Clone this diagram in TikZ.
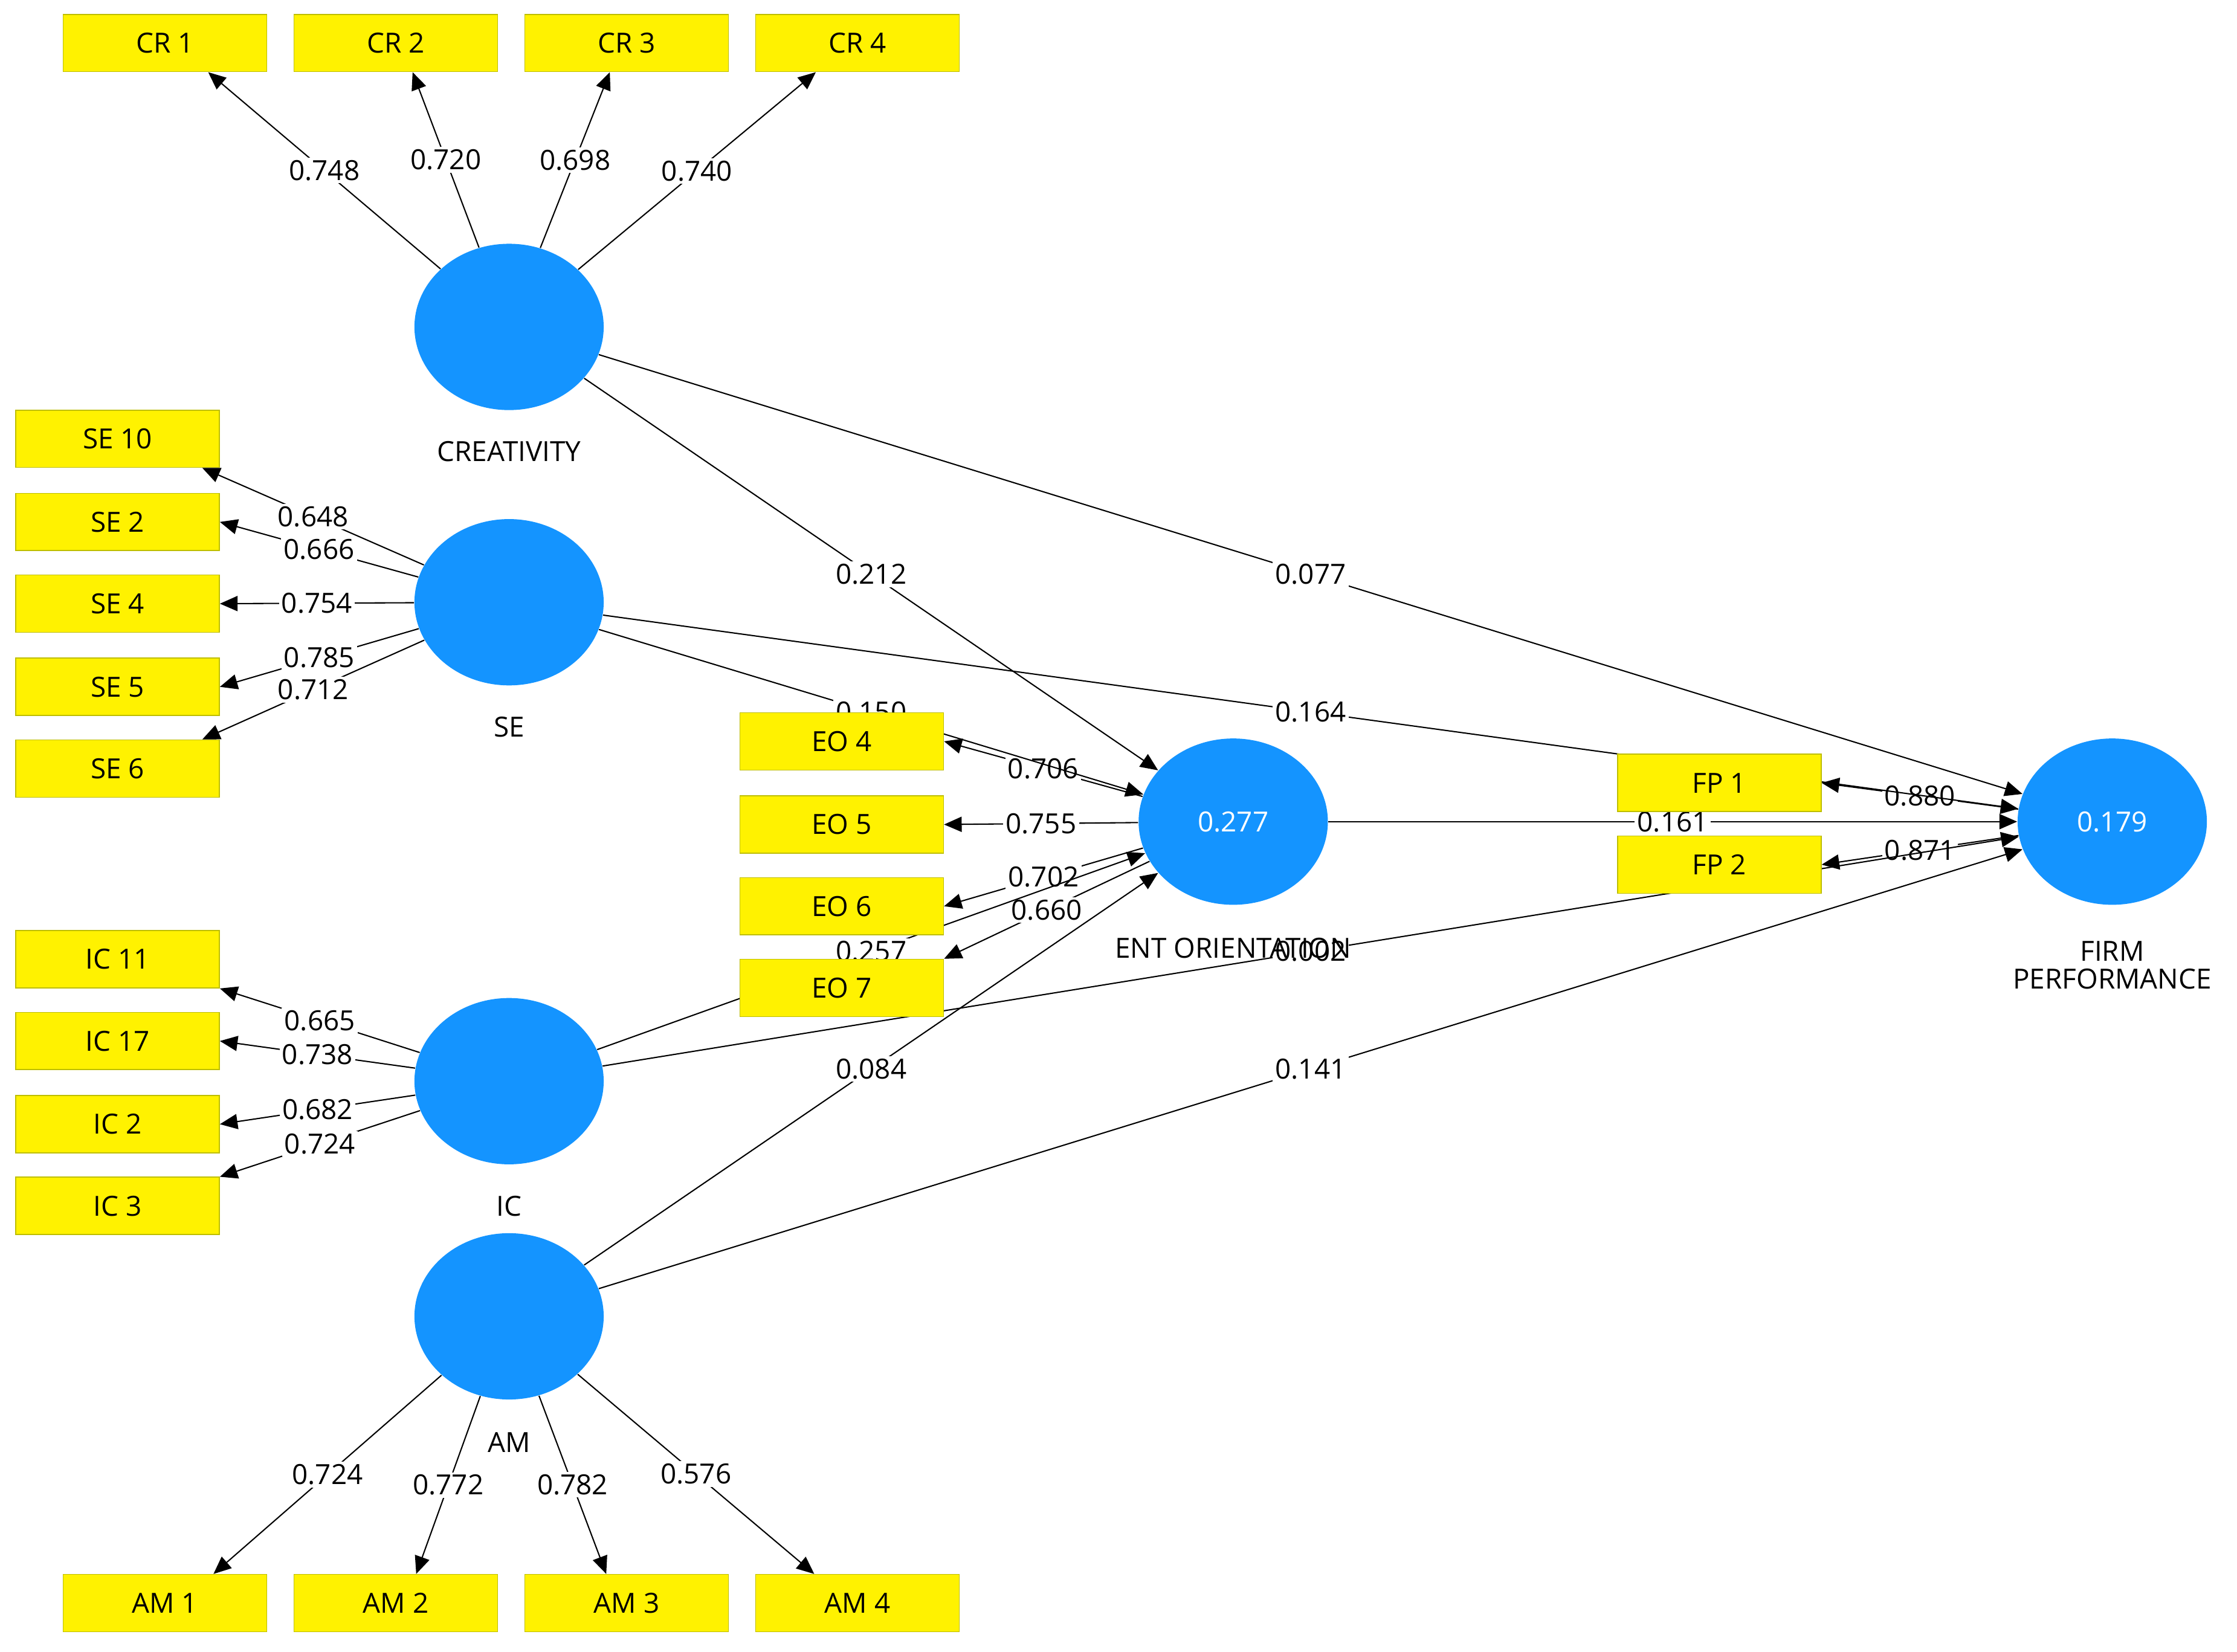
\documentclass[tikz,border=0pt]{standalone}
\usepackage{fontspec}
\setmainfont{Open Sans}
\usetikzlibrary{shapes.geometric,arrows.meta}
\pgfdeclarelayer{bg}
\pgfsetlayers{bg,main}
\begin{document}
\begin{tikzpicture}[x=0.02cm,y=-0.02cm,
  font=\fontsize{11}{13}\selectfont,
  lv/.style={ellipse,fill={rgb,255:red,20;green,148;blue,255},minimum width=2.64cm,minimum height=2.32cm,inner sep=0pt,text=white},
  ind/.style={rectangle,draw={rgb,255:red,190;green,190;blue,0},fill=yellow,minimum width=2.84cm,minimum height=0.8cm,inner sep=0pt},
  ar/.style={-{Triangle[length=7pt,width=6pt]},line width=0.5pt},
  lab/.style={fill=white,inner sep=1pt,pos=0.5},
  lvcap/.style={align=center}]
\useasboundingbox (0,0) rectangle (1560,1152);
% latent variables
\node[lv] (cr) at (355,228) {};
\node[lv] (se) at (355,420) {};
\node[lv] (ic) at (355,754) {};
\node[lv] (am) at (355,918) {};
\node[lv] (eo) at (860,573) {0.277};
\node[lv] (fp) at (1473,573) {0.179};
\node[lvcap] (crc) at (355,315) {CREATIVITY};
\node[lvcap] (sec) at (355,507) {SE};
\node[lvcap] (icc) at (355,841) {IC};
\node[lvcap] (amc) at (355,1006) {AM};
\node[lvcap] (eoc) at (860,661) {ENT ORIENTATION};
\node[lvcap] (fpc) at (1473,673) {FIRM\\[-2pt]PERFORMANCE};
% indicators
\node[ind] (cr1) at (115,30) {CR 1};
\node[ind] (cr2) at (276,30) {CR 2};
\node[ind] (cr3) at (437,30) {CR 3};
\node[ind] (cr4) at (598,30) {CR 4};
\node[ind] (se10) at (82,306) {SE 10};
\node[ind] (se2) at (82,364) {SE 2};
\node[ind] (se4) at (82,421) {SE 4};
\node[ind] (se5) at (82,479) {SE 5};
\node[ind] (se6) at (82,536) {SE 6};
\node[ind] (ic11) at (82,669) {IC 11};
\node[ind] (ic17) at (82,726) {IC 17};
\node[ind] (ic2) at (82,784) {IC 2};
\node[ind] (ic3) at (82,841) {IC 3};
\node[ind] (am1) at (115,1118) {AM 1};
\node[ind] (am2) at (276,1118) {AM 2};
\node[ind] (am3) at (437,1118) {AM 3};
\node[ind] (am4) at (598,1118) {AM 4};
\node[ind] (eo4) at (587,517) {EO 4};
\node[ind] (eo5) at (587,575) {EO 5};
\node[ind] (eo6) at (587,632) {EO 6};
\node[ind] (eo7) at (587,689) {EO 7};
\node[ind] (fp1) at (1199,546) {FP 1};
\node[ind] (fp2) at (1199,603) {FP 2};
\begin{pgfonlayer}{bg}
% loadings
\draw[ar] (cr) -- node[lab]{0.748} (cr1.-34);
\draw[ar] (cr) -- node[lab]{0.720} (cr2.-60);
\draw[ar] (cr) -- node[lab]{0.698} (cr3.-120);
\draw[ar] (cr) -- node[lab]{0.740} (cr4.-145);
\draw[ar] (se) -- node[lab]{0.648} (se10.-19);
\draw[ar] (se) -- node[lab]{0.666} (se2.east);
\draw[ar] (se) -- node[lab]{0.754} (se4.east);
\draw[ar] (se) -- node[lab]{0.785} (se5.east);
\draw[ar] (se) -- node[lab]{0.712} (se6.19);
\draw[ar] (ic) -- node[lab]{0.665} (ic11.south east);
\draw[ar] (ic) -- node[lab]{0.738} (ic17.east);
\draw[ar] (ic) -- node[lab]{0.682} (ic2.east);
\draw[ar] (ic) -- node[lab]{0.724} (ic3.north east);
\draw[ar] (am) -- node[lab]{0.724} (am1.31);
\draw[ar] (am) -- node[lab]{0.772} (am2.55);
\draw[ar] (am) -- node[lab]{0.782} (am3.125);
\draw[ar] (am) -- node[lab]{0.576} (am4.146);
\draw[ar] (eo) -- node[lab]{0.706} (eo4.east);
\draw[ar] (eo) -- node[lab]{0.755} (eo5.east);
\draw[ar] (eo) -- node[lab]{0.702} (eo6.east);
\draw[ar] (eo) -- node[lab]{0.660} (eo7.north east);
\draw[ar] (fp) -- node[lab]{0.880} (fp1.east);
\draw[ar] (fp) -- node[lab]{0.871} (fp2.east);
% structural paths
\draw[ar] (cr) -- node[lab]{0.212} (eo);
\draw[ar] (cr) -- node[lab]{0.077} (fp);
\draw[ar] (se) -- node[lab]{0.150} (eo);
\draw[ar] (se) -- node[lab]{0.164} (fp);
\draw[ar] (eo) -- node[lab]{0.161} (fp);
\draw[ar] (ic) -- node[lab]{0.257} (eo);
\draw[ar] (ic) -- node[lab]{0.002} (fp);
\draw[ar] (am) -- node[lab]{0.084} (eo);
\draw[ar] (am) -- node[lab]{0.141} (fp);
\end{pgfonlayer}
\end{tikzpicture}
\end{document}
